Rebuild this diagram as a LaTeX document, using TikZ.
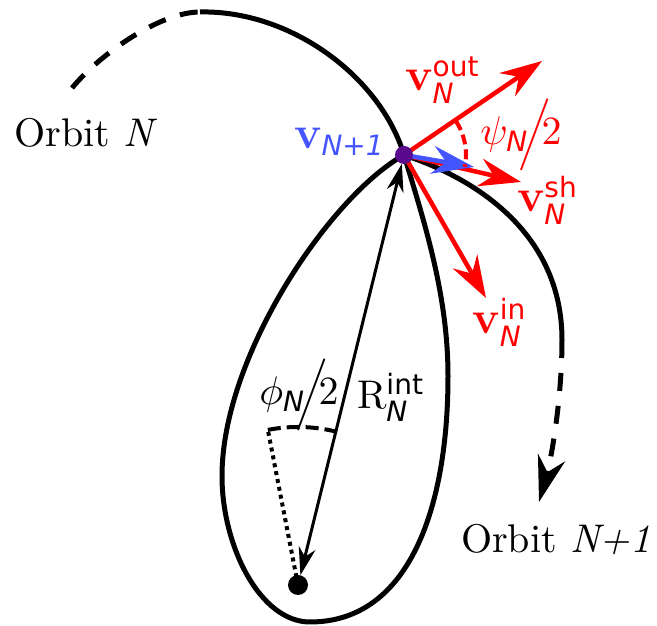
\documentclass[tikz,border=0pt]{standalone}
\usepackage{amsmath}
\usepackage{fontspec}
\setsansfont{DejaVu Sans}
\usetikzlibrary{arrows.meta}
\definecolor{vecred}{HTML}{FF0000}
\definecolor{vecblue}{HTML}{4455FF}
\definecolor{dotpurple}{HTML}{5A0A8C}
\newcommand{\subN}{\textsf{\itshape N}}
\newcommand{\bvec}{\text{\fontsize{11.5}{13}\selectfont\bfseries v}}
\newcommand{\half}{\mkern-5mu\Big/\mkern-4mu2}

\begin{document}
\begin{tikzpicture}[x=1pt,y=1pt,
  lbl/.style={scale=4,inner sep=1pt},
  orbit/.style={line width=5pt},
  orbitdash/.style={orbit,dash pattern=on 18pt off 15pt},
  vec/.style={line width=4.5pt,-{Stealth[length=42pt,width=28pt,inset=14pt]}},
  rline/.style={line width=3pt,{Stealth[length=28pt,width=17pt,inset=9pt]}-{Stealth[length=28pt,width=17pt,inset=9pt]}},
  dot/.style={circle,inner sep=0pt,minimum size=#1}]
\useasboundingbox (0,0) rectangle (657,626);
\coordinate (P) at (404,471);
\coordinate (F) at (298,41);
\coordinate (startN) at (72,538);
\coordinate (topN) at (200,614);
\coordinate (rightL) at (448,250);
\coordinate (bottomL) at (310,4);
\coordinate (leftL) at (222,150);
\coordinate (rightN1) at (562,286);
\coordinate (endN1) at (539,124);
% orbit N, loop round the focus, orbit N+1
\draw[orbitdash] (startN) .. controls (100,572) and (160,614) .. (topN);
\draw[orbit] (topN) .. controls (290,616) and (380,550) .. (P)
  .. controls (425,402) and (448,330) .. (rightL)
  .. controls (448,120) and (410,4) .. (bottomL)
  .. controls (260,4) and (222,80) .. (leftL)
  .. controls (222,270) and (330,430) .. (P);
\draw[orbit] (P) .. controls (480,446) and (562,390) .. (rightN1);
\draw[orbitdash,-{Stealth[length=46pt,width=28pt,inset=15pt]}] (rightN1) .. controls (562,230) and (552,170) .. (endN1);
% radius and angle
\draw[rline,shorten <=10pt,shorten >=9pt] (F) -- (P);
\coordinate (phiA) at ([shift={(101:158)}]F);
\draw[line width=4pt,dash pattern=on 4pt off 4pt] (F) -- (phiA);
\draw[line width=4pt,dash pattern=on 13pt off 6pt] (phiA) arc[start angle=101,end angle=76,radius=158pt];
% velocity vectors
\coordinate (outtip) at (542,565);
\coordinate (shtip) at (521,444);
\coordinate (intip) at (486,328);
\coordinate (N1tip) at (474,459);
\draw[vec,vecred] (P) -- (outtip);
\draw[vec,vecred] (P) -- (shtip);
\draw[vec,vecred] (P) -- (intip);
\draw[vec,vecblue] (P) -- (N1tip);
\draw[vecred,line width=4pt,dash pattern=on 10pt off 5pt] ([shift={(33:62)}]P) arc[start angle=33,end angle=-11,radius=62pt];
\node[dot=18pt,fill=dotpurple] (Pdot) at (P) {};
\node[dot=20pt,fill=black] (Fdot) at (F) {};
% labels
\node[lbl,vecred] (outlbl) at (443,546) {$\bvec^{\textsf{out}}_{\subN}$};
\node[lbl,vecblue] (N1lbl) at (340,484) {$\bvec_{\textsf{\itshape N+1}}$};
\node[lbl,vecred] (psilbl) at (521,491) {$\psi_{\subN}\half$};
\node[lbl,vecred] (shlbl) at (548,426) {$\bvec^{\textsf{sh}}_{\subN}$};
\node[lbl,vecred] (inlbl) at (500,304) {$\bvec^{\textsf{in}}_{\subN}$};
\node[lbl] (philbl) at (299,231) {$\phi_{\subN}\half$};
\node[lbl] (Rlbl) at (391,229) {$\mathrm{R}^{\textsf{int}}_{\subN}$};
\node[lbl] (orbNlbl) at (86,493) {Orbit \textit{N}};
\node[lbl] (orbN1lbl) at (556,86) {Orbit \textit{N+1}};
\end{tikzpicture}
\end{document}
